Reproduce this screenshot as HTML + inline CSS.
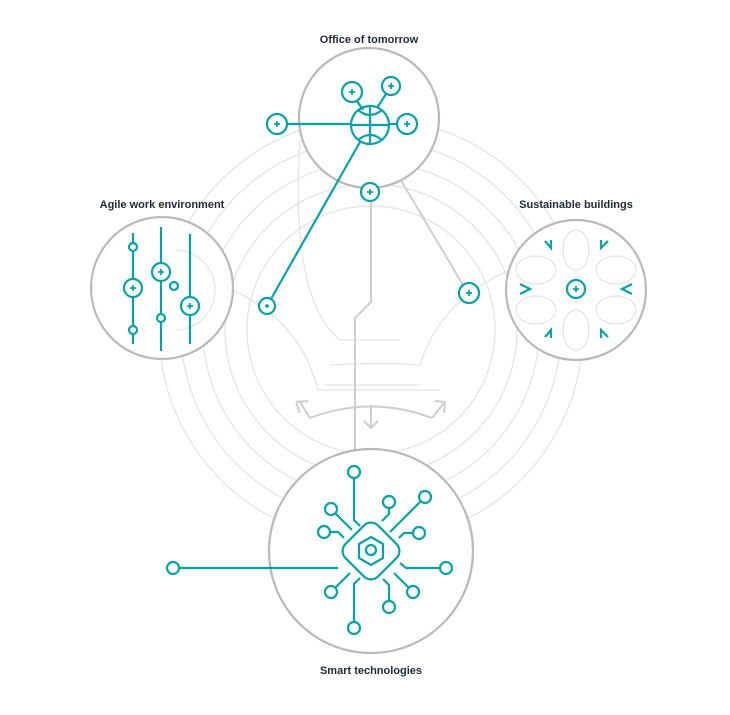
<!DOCTYPE html>
<html><head><style>
body{margin:0;background:#fff;}
svg{display:block}
text{font-family:"Liberation Sans",sans-serif;font-size:11px;font-weight:bold;fill:#1e2a3a;text-anchor:middle}
</style></head><body>
<svg width="730" height="715" viewBox="0 0 730 715" xmlns="http://www.w3.org/2000/svg">
<g fill="none" stroke="#e4e4e4" stroke-width="1.3">
<circle cx="371" cy="330" r="212"/>
<circle cx="371" cy="330" r="190"/>
<circle cx="371" cy="330" r="168"/>
<circle cx="371" cy="330" r="146"/>
<circle cx="371" cy="330" r="124"/>
<path d="M300 140 Q290 300 340 340 L400 340"/>
<path d="M232 290 Q300 320 318 390 L440 390"/>
<path d="M330 365 Q380 362 420 365 Q440 300 510 270"/>
<path d="M325 385 L420 385"/>
</g>
<g fill="none" stroke="#cfcfcf" stroke-width="2">
<path d="M371 140 L371 302 L355 318 L355 465"/>
<path d="M380 145 L463 285"/>
<path d="M310 418 Q371 395 432 418"/>
<path d="M300 402 L310 418 M296 402 L308 401 M296 402 L300 413"/>
<path d="M445 402 L432 418 M445 402 L435 401 M445 402 L444 413"/>
<path d="M371 405 L371 428 M364 421 L371 428 L378 421"/>
</g>
<g fill="#fff" stroke="#b9b9b9" stroke-width="2.2">
<circle cx="369" cy="118" r="70"/>
<circle cx="162" cy="288" r="71"/>
<circle cx="576" cy="290" r="70"/>
<circle cx="371" cy="551" r="102"/>
</g>
<g fill="none" stroke="#e4e4e4" stroke-width="1.2">
<path d="M175 250 A40 40 0 1 1 175 330"/>
<ellipse cx="576" cy="250" rx="13" ry="20"/>
<ellipse cx="576" cy="330" rx="13" ry="20"/>
<ellipse cx="536" cy="270" rx="20" ry="14"/>
<ellipse cx="616" cy="270" rx="20" ry="14"/>
<ellipse cx="536" cy="310" rx="20" ry="14"/>
<ellipse cx="616" cy="310" rx="20" ry="14"/>
</g>
<g fill="none" stroke="#0aa0a6" stroke-width="2.2">
<!-- office -->
<line x1="277" y1="124" x2="407" y2="124"/>
<circle cx="370" cy="125" r="19" fill="#fff"/>
<line x1="370" y1="106" x2="370" y2="144"/>
<line x1="351" y1="125" x2="389" y2="125"/>
<path d="M358 110 Q370 120 382 110 M358 140 Q370 130 382 140"/>
<line x1="357" y1="101" x2="363" y2="110"/>
<line x1="386" y1="94" x2="377" y2="108"/>
<line x1="360" y1="142" x2="267" y2="306"/>
<circle cx="277" cy="124" r="10" fill="#fff"/>
<circle cx="407" cy="124" r="10" fill="#fff"/>
<circle cx="352" cy="92" r="10" fill="#fff"/>
<circle cx="391" cy="86" r="9" fill="#fff"/>
<circle cx="370" cy="192" r="9" fill="#fff"/>
<circle cx="267" cy="306" r="8" fill="#fff"/>
<circle cx="469" cy="293" r="10" fill="#fff"/>
<!-- agile -->
<line x1="133" y1="233" x2="133" y2="344"/>
<line x1="161" y1="227" x2="161" y2="351"/>
<line x1="190" y1="234" x2="190" y2="344"/>
<circle cx="133" cy="247" r="4" fill="#fff"/>
<circle cx="133" cy="288" r="9" fill="#fff"/>
<circle cx="133" cy="330" r="4" fill="#fff"/>
<circle cx="161" cy="272" r="9" fill="#fff"/>
<circle cx="174" cy="286" r="4" fill="#fff"/>
<circle cx="161" cy="318" r="4" fill="#fff"/>
<circle cx="190" cy="306" r="9" fill="#fff"/>
<!-- sustainable -->
<circle cx="576" cy="289" r="9"/>
<path d="M520 284 L530 289 L520 294"/>
<path d="M632 284 L622 289 L632 294"/>
<path d="M545 241 L551 248 L551 240"/>
<path d="M608 241 L601 248 L601 240"/>
<path d="M545 337 L551 330 L551 338"/>
<path d="M608 337 L601 330 L601 338"/>
<!-- smart -->
<line x1="173" y1="568" x2="338" y2="568"/>
<rect x="348" y="528" width="46" height="46" rx="10" transform="rotate(45 371 551)" fill="#fff"/>
<polygon points="371,537 383,544 383,558 371,565 359,558 359,544"/>
<circle cx="371" cy="550" r="5"/>
<path d="M354 472 L354 520 L360 526"/>
<path d="M389 502 L389 514 L382 521"/>
<path d="M425 497 L390 532"/>
<path d="M331 509 L352 530"/>
<path d="M324 532 L338 532 L344 538"/>
<path d="M419 533 L404 533 L399 538"/>
<path d="M446 568 L406 568 L400 563"/>
<path d="M413 592 L394 573"/>
<path d="M389 607 L389 585 L383 579"/>
<path d="M331 592 L350 573"/>
<path d="M354 628 L354 584 L360 578"/>
<circle cx="354" cy="472" r="6" fill="#fff"/>
<circle cx="389" cy="502" r="6" fill="#fff"/>
<circle cx="425" cy="497" r="6" fill="#fff"/>
<circle cx="331" cy="509" r="6" fill="#fff"/>
<circle cx="324" cy="532" r="6" fill="#fff"/>
<circle cx="419" cy="533" r="6" fill="#fff"/>
<circle cx="446" cy="568" r="6" fill="#fff"/>
<circle cx="173" cy="568" r="6" fill="#fff"/>
<circle cx="413" cy="592" r="6" fill="#fff"/>
<circle cx="389" cy="607" r="6" fill="#fff"/>
<circle cx="331" cy="592" r="6" fill="#fff"/>
<circle cx="354" cy="628" r="6" fill="#fff"/>
</g>
<g stroke="#0aa0a6" stroke-width="1.8">
<path d="M274 124h6M277 121v6"/>
<path d="M404 124h6M407 121v6"/>
<path d="M349 92h6M352 89v6"/>
<path d="M388 86h6M391 83v6"/>
<path d="M367 192h6M370 189v6"/>
<path d="M265 306h4M267 304v4"/>
<path d="M466 293h6M469 290v6"/>
<path d="M130 288h6M133 285v6"/>
<path d="M158 272h6M161 269v6"/>
<path d="M187 306h6M190 303v6"/>
<path d="M573 289h6M576 286v6"/>
</g>
<text x="369" y="43">Office of tomorrow</text>
<text x="162" y="208">Agile work environment</text>
<text x="576" y="208">Sustainable buildings</text>
<text x="371" y="674">Smart technologies</text>
</svg>
</body></html>
